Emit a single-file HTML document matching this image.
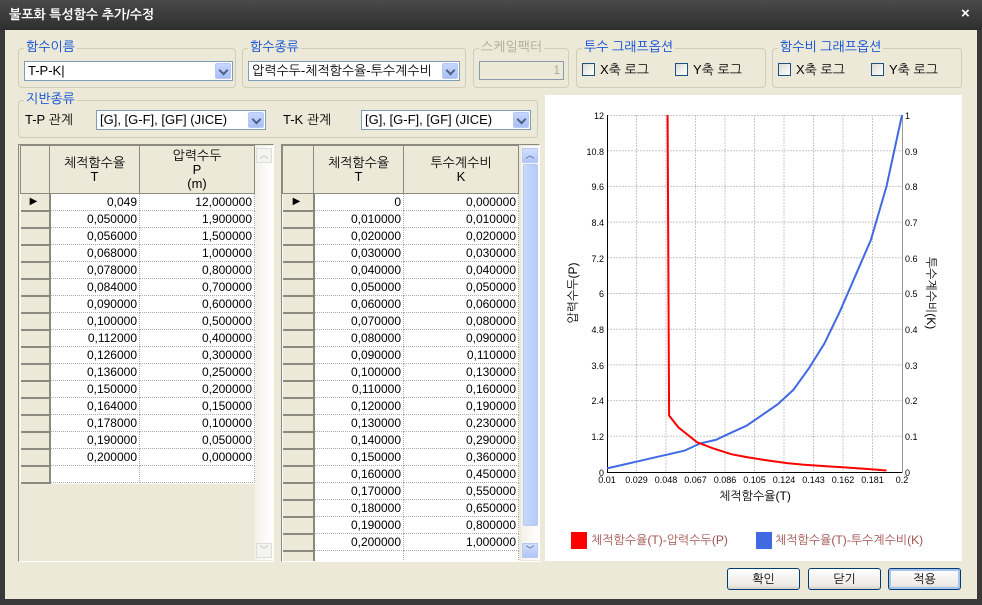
<!DOCTYPE html>
<html><head><meta charset="utf-8">
<style>
*{box-sizing:border-box;margin:0;padding:0}
body{width:982px;height:605px;overflow:hidden;background:#ece9d8;font-family:"Liberation Sans","NanumGothic","Noto Sans CJK KR",sans-serif;font-size:12px;color:#000;position:relative}
.a{position:absolute}
.grp{position:absolute;border:1px solid #d0cdb8;border-radius:4px}
.gl{position:absolute;background:#ece9d8;color:#0046d5;padding:0 2px;font-size:13px;line-height:14px}
.combo{position:absolute;background:#fff;border:1px solid #7f9db9;height:20px;line-height:18px;padding-left:3px;font-size:13px}
.cb{position:absolute;right:1px;top:1px;width:16px;height:16px;background:linear-gradient(#c6d6fd,#a9c0f5);border:1px solid #b6c9f4;border-radius:2px}
.cb:after{content:"";position:absolute;left:4px;top:3px;width:5px;height:5px;border-right:2px solid #4d6185;border-bottom:2px solid #4d6185;transform:rotate(45deg)}
.chk{position:absolute;width:13px;height:13px;border:1px solid #1c5180;background:linear-gradient(135deg,#dcdcd5,#fff)}
.lbl{position:absolute;font-size:13px;line-height:14px}
table{border-collapse:collapse;position:absolute;table-layout:fixed;background:#fff}
td{height:17px;border:1px dotted #aaa;text-align:right;padding-right:2px;font-size:12px;line-height:15px;font-family:"Liberation Sans Narrow","Liberation Sans",sans-serif}
td.h{background:#ece9d8;border:1px solid #808080;border-width:0 2px 2px 0;border-color:#8a8a80}
th{background:#ece9d8;border:1px solid #8a8a80;font-weight:normal;font-size:13px;line-height:14px;height:48px}
.btn{position:absolute;height:22px;border:1px solid #003c74;border-radius:3px;background:linear-gradient(#fff,#ecebe6 80%,#d6d0c5);text-align:center;line-height:20px;font-size:12px}
</style></head><body>
<!-- title bar -->
<div class="a" style="left:0;top:0;width:982px;height:30px;background:linear-gradient(#4a4a4a,#2e2e2e);"></div>
<div class="a" style="left:9px;top:7px;color:#fff;font-weight:bold;font-size:13px">불포화 특성함수 추가/수정</div>
<div class="a" style="left:961px;top:5px;color:#fff;font-weight:bold;font-size:15px">×</div>
<div class="a" style="left:0;top:30px;width:5px;height:575px;background:#3a3a3a"></div>
<div class="a" style="right:0;top:30px;width:5px;height:575px;background:#3a3a3a"></div>
<div class="a" style="left:0;top:599px;width:982px;height:6px;background:#3a3a3a"></div>

<!-- groups -->
<div class="grp" style="left:18px;top:48px;width:218px;height:40px"></div>
<div class="gl" style="left:24px;top:40px">함수이름</div>
<div class="combo" style="left:24px;top:61px;width:209px">T-P-K|<div class="cb"></div></div>

<div class="grp" style="left:242px;top:48px;width:224px;height:40px"></div>
<div class="gl" style="left:248px;top:40px">함수종류</div>
<div class="combo" style="left:248px;top:61px;width:212px">압력수두-체적함수율-투수계수비<div class="cb"></div></div>

<div class="grp" style="left:473px;top:48px;width:96px;height:40px"></div>
<div class="gl" style="left:479px;top:40px;color:#aca899">스케일팩터</div>
<div class="a" style="left:479px;top:61px;width:85px;height:19px;border:1px solid #8a9bac;text-align:right;color:#aca899;padding-right:3px;font-size:12px;line-height:17px">1</div>

<div class="grp" style="left:576px;top:48px;width:190px;height:40px"></div>
<div class="gl" style="left:582px;top:40px">투수 그래프옵션</div>
<div class="chk" style="left:582px;top:63px"></div><div class="lbl" style="left:600px;top:63px">X축 로그</div>
<div class="chk" style="left:675px;top:63px"></div><div class="lbl" style="left:693px;top:63px">Y축 로그</div>

<div class="grp" style="left:772px;top:48px;width:190px;height:40px"></div>
<div class="gl" style="left:778px;top:40px">함수비 그래프옵션</div>
<div class="chk" style="left:778px;top:63px"></div><div class="lbl" style="left:796px;top:63px">X축 로그</div>
<div class="chk" style="left:871px;top:63px"></div><div class="lbl" style="left:889px;top:63px">Y축 로그</div>

<div class="grp" style="left:18px;top:100px;width:520px;height:38px"></div>
<div class="gl" style="left:24px;top:92px">지반종류</div>
<div class="lbl" style="left:25px;top:113px">T-P 관계</div>
<div class="combo" style="left:96px;top:110px;width:170px">[G], [G-F], [GF] (JICE)<div class="cb"></div></div>
<div class="lbl" style="left:283px;top:113px">T-K 관계</div>
<div class="combo" style="left:361px;top:110px;width:170px">[G], [G-F], [GF] (JICE)<div class="cb"></div></div>

<!-- left table -->
<div class="a" style="left:18px;top:144px;width:256px;height:418px;border:1px solid #8a8a80;border-right-color:#fff;border-bottom-color:#fff"></div>
<table style="left:20px;top:145px;width:234px">
<colgroup><col style="width:29px"><col style="width:90px"><col style="width:115px"></colgroup>
<tr><th></th><th>체적함수율<br>T</th><th>압력수두<br>P<br>(m)</th></tr>
<tr><td class="h" style="text-align:center;font-size:10px">▶</td><td>0,049</td><td>12,000000</td></tr>
<tr><td class="h"></td><td>0,050000</td><td>1,900000</td></tr>
<tr><td class="h"></td><td>0,056000</td><td>1,500000</td></tr>
<tr><td class="h"></td><td>0,068000</td><td>1,000000</td></tr>
<tr><td class="h"></td><td>0,078000</td><td>0,800000</td></tr>
<tr><td class="h"></td><td>0,084000</td><td>0,700000</td></tr>
<tr><td class="h"></td><td>0,090000</td><td>0,600000</td></tr>
<tr><td class="h"></td><td>0,100000</td><td>0,500000</td></tr>
<tr><td class="h"></td><td>0,112000</td><td>0,400000</td></tr>
<tr><td class="h"></td><td>0,126000</td><td>0,300000</td></tr>
<tr><td class="h"></td><td>0,136000</td><td>0,250000</td></tr>
<tr><td class="h"></td><td>0,150000</td><td>0,200000</td></tr>
<tr><td class="h"></td><td>0,164000</td><td>0,150000</td></tr>
<tr><td class="h"></td><td>0,178000</td><td>0,100000</td></tr>
<tr><td class="h"></td><td>0,190000</td><td>0,050000</td></tr>
<tr><td class="h"></td><td>0,200000</td><td>0,000000</td></tr>
<tr><td class="h"></td><td></td><td></td></tr>
</table>
<div class="a" style="left:255px;top:146px;width:18px;height:414px;background:linear-gradient(90deg,#f3f1ea,#fff)"></div>
<div class="a" style="left:256px;top:148px;width:16px;height:15px;border:1px solid #ddd;background:#f3f3ef;color:#bbb;font-size:9px;text-align:center;line-height:13px">︿</div>
<div class="a" style="left:256px;top:543px;width:16px;height:15px;border:1px solid #ddd;background:#f3f3ef;color:#bbb;font-size:9px;text-align:center;line-height:13px">﹀</div>

<!-- right table -->
<div class="a" style="left:281px;top:144px;width:259px;height:418px;border:1px solid #8a8a80;border-right-color:#fff;border-bottom-color:#fff;overflow:hidden">
<table style="left:0;top:0;width:236px">
<colgroup><col style="width:31px"><col style="width:90px"><col style="width:115px"></colgroup>
<tr><th></th><th>체적함수율<br>T</th><th>투수계수비<br>K</th></tr>
<tr><td class="h" style="text-align:center;font-size:10px">▶</td><td>0</td><td>0,000000</td></tr>
<tr><td class="h"></td><td>0,010000</td><td>0,010000</td></tr>
<tr><td class="h"></td><td>0,020000</td><td>0,020000</td></tr>
<tr><td class="h"></td><td>0,030000</td><td>0,030000</td></tr>
<tr><td class="h"></td><td>0,040000</td><td>0,040000</td></tr>
<tr><td class="h"></td><td>0,050000</td><td>0,050000</td></tr>
<tr><td class="h"></td><td>0,060000</td><td>0,060000</td></tr>
<tr><td class="h"></td><td>0,070000</td><td>0,080000</td></tr>
<tr><td class="h"></td><td>0,080000</td><td>0,090000</td></tr>
<tr><td class="h"></td><td>0,090000</td><td>0,110000</td></tr>
<tr><td class="h"></td><td>0,100000</td><td>0,130000</td></tr>
<tr><td class="h"></td><td>0,110000</td><td>0,160000</td></tr>
<tr><td class="h"></td><td>0,120000</td><td>0,190000</td></tr>
<tr><td class="h"></td><td>0,130000</td><td>0,230000</td></tr>
<tr><td class="h"></td><td>0,140000</td><td>0,290000</td></tr>
<tr><td class="h"></td><td>0,150000</td><td>0,360000</td></tr>
<tr><td class="h"></td><td>0,160000</td><td>0,450000</td></tr>
<tr><td class="h"></td><td>0,170000</td><td>0,550000</td></tr>
<tr><td class="h"></td><td>0,180000</td><td>0,650000</td></tr>
<tr><td class="h"></td><td>0,190000</td><td>0,800000</td></tr>
<tr><td class="h"></td><td>0,200000</td><td>1,000000</td></tr>
<tr><td class="h"></td><td></td><td></td></tr>
</table>
<div class="a" style="left:239px;top:1px;width:18px;height:414px;background:linear-gradient(90deg,#f3f1ea,#fff)"></div>
<div class="a" style="left:240px;top:3px;width:16px;height:15px;border:1px solid #b6c9f4;background:linear-gradient(#d2defc,#b0c6f7);color:#4d6185;font-size:9px;text-align:center;line-height:13px">︿</div>
<div class="a" style="left:241px;top:19px;width:15px;height:362px;border:1px solid #b6c9f4;border-radius:2px;background:linear-gradient(90deg,#c9d8fc,#b5cbf8)"></div>
<div class="a" style="left:240px;top:398px;width:16px;height:15px;border:1px solid #b6c9f4;background:linear-gradient(#d2defc,#b0c6f7);color:#4d6185;font-size:9px;text-align:center;line-height:13px">﹀</div>
</div>

<!-- chart -->
<svg class="a" style="left:545px;top:95px" width="417" height="466" viewBox="545 95 417 466">
<rect x="545" y="95" width="417" height="466" fill="#fff"/>
<g stroke="#c8c8c8" stroke-dasharray="2,1" stroke-width="1">
<line x1="636.5" y1="115" x2="636.5" y2="472"/><line x1="666" y1="115" x2="666" y2="472"/><line x1="695.5" y1="115" x2="695.5" y2="472"/><line x1="725" y1="115" x2="725" y2="472"/><line x1="754.5" y1="115" x2="754.5" y2="472"/><line x1="784" y1="115" x2="784" y2="472"/><line x1="813.5" y1="115" x2="813.5" y2="472"/><line x1="843" y1="115" x2="843" y2="472"/><line x1="872.5" y1="115" x2="872.5" y2="472"/>
<line x1="607" y1="115.5" x2="902" y2="115.5"/><line x1="607" y1="150.7" x2="902" y2="150.7"/><line x1="607" y1="186.4" x2="902" y2="186.4"/><line x1="607" y1="222.1" x2="902" y2="222.1"/><line x1="607" y1="257.8" x2="902" y2="257.8"/><line x1="607" y1="293.5" x2="902" y2="293.5"/><line x1="607" y1="329.2" x2="902" y2="329.2"/><line x1="607" y1="364.9" x2="902" y2="364.9"/><line x1="607" y1="400.6" x2="902" y2="400.6"/><line x1="607" y1="436.3" x2="902" y2="436.3"/>
</g>
<line x1="902.5" y1="115" x2="902.5" y2="473" stroke="#999"/>
<line x1="607.5" y1="115" x2="607.5" y2="473" stroke="#000"/>
<line x1="607" y1="472.5" x2="902" y2="472.5" stroke="#000"/>
<polyline fill="none" stroke="#4169e1" stroke-width="2" points="607,468.4 622.5,464.9 638.1,461.3 653.6,457.7 669.1,454.2 684.6,450.6 700.2,443.4 715.7,439.9 731.2,432.7 746.7,425.6 762.3,414.9 777.8,404.2 793.3,389.9 808.8,368.5 824.4,343.5 839.9,311.4 855.4,275.7 870.9,239.9 886.5,186.4 902,115"/>
<polyline fill="none" stroke="#ff0000" stroke-width="2" points="667.6,115 669.1,415.5 678.4,427.4 697.1,442.3 712.6,448.2 721.9,451.2 731.2,454.2 746.7,457.1 765.4,460.1 787.1,463.1 802.6,464.6 824.4,466.1 846.1,467.5 867.8,469 886.5,470.5"/>
<g font-family="Liberation Sans Narrow, Liberation Sans, sans-serif" font-size="9" text-anchor="end">
<text x="604" y="119">12</text><text x="604" y="155">10.8</text><text x="604" y="190">9.6</text><text x="604" y="226">8.4</text><text x="604" y="262">7.2</text><text x="604" y="297">6</text><text x="604" y="333">4.8</text><text x="604" y="369">3.6</text><text x="604" y="404">2.4</text><text x="604" y="440">1.2</text><text x="604" y="476">0</text>
</g>
<g font-family="Liberation Sans Narrow, Liberation Sans, sans-serif" font-size="9">
<text x="905" y="119">1</text><text x="905" y="155">0.9</text><text x="905" y="190">0.8</text><text x="905" y="226">0.7</text><text x="905" y="262">0.6</text><text x="905" y="297">0.5</text><text x="905" y="333">0.4</text><text x="905" y="369">0.3</text><text x="905" y="404">0.2</text><text x="905" y="440">0.1</text><text x="905" y="476">0</text>
</g>
<g font-family="Liberation Sans Narrow, Liberation Sans, sans-serif" font-size="9" text-anchor="middle">
<text x="607" y="483">0.01</text><text x="636.5" y="483">0.029</text><text x="666" y="483">0.048</text><text x="695.5" y="483">0.067</text><text x="725" y="483">0.086</text><text x="754.5" y="483">0.105</text><text x="784" y="483">0.124</text><text x="813.5" y="483">0.143</text><text x="843" y="483">0.162</text><text x="872.5" y="483">0.181</text><text x="902" y="483">0.2</text>
</g>
<text x="755" y="500" font-size="12" text-anchor="middle" font-family="Liberation Sans, NanumGothic, Noto Sans CJK KR, sans-serif">체적함수율(T)</text>
<text transform="translate(577,293) rotate(-90)" font-size="12" text-anchor="middle" font-family="Liberation Sans, NanumGothic, Noto Sans CJK KR, sans-serif">압력수두(P)</text>
<text transform="translate(927,293) rotate(90)" font-size="12" text-anchor="middle" font-family="Liberation Sans, NanumGothic, Noto Sans CJK KR, sans-serif">투수계수비(K)</text>
<rect x="571" y="532" width="16" height="17" fill="#ff0000"/>
<text x="591" y="544" font-size="12" fill="#a0524d" font-family="Liberation Sans, NanumGothic, Noto Sans CJK KR, sans-serif">체적함수율(T)-압력수두(P)</text>
<rect x="756" y="532" width="16" height="17" fill="#4169e1"/>
<text x="775" y="544" font-size="12" fill="#a0524d" font-family="Liberation Sans, NanumGothic, Noto Sans CJK KR, sans-serif">체적함수율(T)-투수계수비(K)</text>
</svg>

<!-- buttons -->
<div class="btn" style="left:727px;top:568px;width:73px">확인</div>
<div class="btn" style="left:808px;top:568px;width:73px">닫기</div>
<div class="btn" style="left:888px;top:568px;width:73px;box-shadow:inset 0 0 0 2px #a6c4f0">적용</div>
</body></html>
